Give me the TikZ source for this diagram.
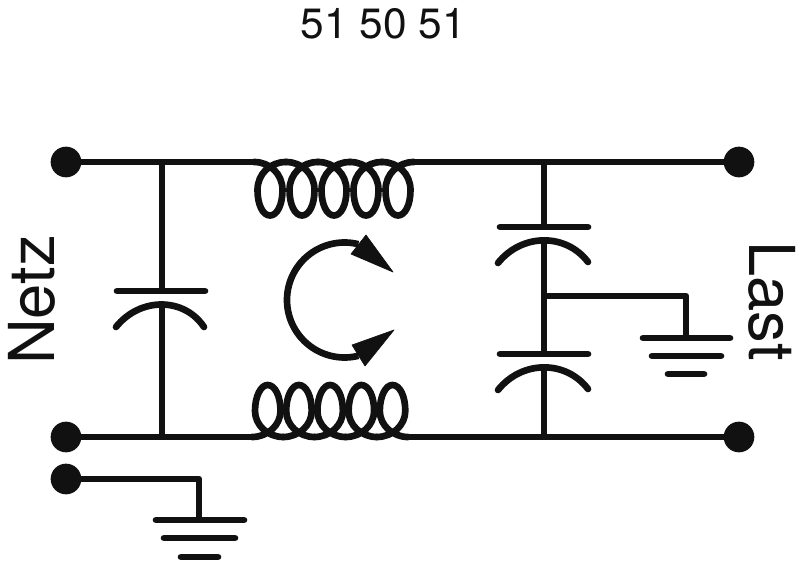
\documentclass[tikz,border=0pt]{standalone}
\usepackage{fontspec}
\setmainfont{TeX Gyre Heros}
\definecolor{ink}{HTML}{111111}
\tikzset{
  wire/.style={draw=ink,line width=5pt,line cap=round,line join=round},
  thinwire/.style={draw=ink,line width=5pt,line join=round},
  term/.style={circle,fill=ink,minimum size=23pt,inner sep=0pt,outer sep=0pt},
  tip/.style={fill=ink,draw=ink,line width=0.5pt,line join=round},
  lbl/.style={inner sep=0pt,anchor=base,text=ink,font=\fontsize{47.5}{47.5}\selectfont}
}
\begin{document}
\begin{tikzpicture}[x=0.75pt,y=-0.75pt]
\useasboundingbox (0,0) rectangle (804,563);
% texts
\node[inner sep=0pt,anchor=base,text=ink,font=\fontsize{31.8}{31.8}\selectfont] (title) at (383.5,38.5) {51 50 51};
\node[lbl,rotate=90] (netz) at (54,300) {Netz};
\node[lbl,rotate=-90] (last) at (749,301) {Last};
% terminals
\node[term] (tl) at (66,162) {};
\node[term] (tr) at (739,162) {};
\node[term] (bl) at (66,437) {};
\node[term] (br) at (739,437) {};
\node[term] (gl) at (66,479) {};
% junction coordinates
\coordinate (c1t) at (162,162);
\coordinate (c1b) at (162,437);
\coordinate (c1p) at (162,291);
\coordinate (c1q) at (162,305);
\coordinate (c2t) at (544,162);
\coordinate (c2b) at (544,437);
\coordinate (c2p) at (544,227);
\coordinate (c2q) at (544,241);
\coordinate (c3p) at (544,354);
\coordinate (c3q) at (544,367);
\coordinate (lt1) at (254,162);
\coordinate (lt2) at (414,162);
\coordinate (lb1) at (252,437);
\coordinate (lb2) at (408,437);
\coordinate (g1c) at (686,296);
\coordinate (g1) at (686,338);
\coordinate (jn) at (544,296);
\coordinate (g2c) at (199,479);
\coordinate (g2) at (199,520);
% main wires
\draw[thinwire] (tl) -- (lt1);
\draw[thinwire] (lt2) -- (tr);
\draw[thinwire] (bl) -- (lb1);
\draw[thinwire] (lb2) -- (br);
% coils: one loop per period
\foreach \i in {0,...,4}{
  \begin{scope}[shift={({254+32*\i},162)}]
    \draw[wire] (0,0) .. controls (16,0) and (28.5,12) .. (28.5,28)
      .. controls (28.5,43) and (23,53.5) .. (16,53.5)
      .. controls (9,53.5) and (3.5,43) .. (3.5,28)
      .. controls (3.5,12) and (16,0) .. (32,0);
  \end{scope}
  \begin{scope}[shift={({252+31.2*\i},437)}]
    \draw[wire] (0,0) .. controls (16,0) and (28.5,-12) .. (28.5,-26)
      .. controls (28.5,-41) and (23,-52) .. (15.6,-52)
      .. controls (9,-52) and (3,-41) .. (3,-26)
      .. controls (3,-12) and (15.6,0) .. (31.2,0);
  \end{scope}
}
% left capacitor
\draw[thinwire] (c1t) -- (c1p);
\draw[thinwire] (c1q) -- (c1b);
\draw[wire] (117,291) -- (205,291);
\draw[wire] (116,327) .. controls (140,297) and (184,297) .. (204,327);
% right capacitors
\draw[thinwire] (c2t) -- (c2p);
\draw[thinwire] (c2q) -- (c3p);
\draw[thinwire] (c3q) -- (c2b);
\draw[wire] (500,227) -- (588,227);
\draw[wire] (498,263) .. controls (522,233) and (566,233) .. (588,262);
\draw[wire] (500,354) -- (588,354);
\draw[wire] (498,390) .. controls (522,360) and (566,360) .. (588,389);
% right ground
\draw[thinwire] (jn) -- (g1c) -- (g1);
\draw[wire] (643,338) -- (730,338);
\draw[wire] (652,356) -- (721,356);
\draw[wire] (668,374) -- (704,374);
% left ground
\draw[thinwire] (gl) -- (g2c) -- (g2);
\draw[wire] (156,520) -- (244,520);
\draw[wire] (164,538) -- (235,538);
\draw[wire] (181,557) -- (218,557);
% circulating arrow
\draw[thinwire] plot[domain=76:284,samples=80,smooth] ({344.5+57.5*cos(\x)},{300-57.5*sin(\x)});
\draw[tip] (393,272) -- (366,235) -- (351,254) -- cycle;
\draw[tip] (394,330) -- (352,345) -- (365,366) -- cycle;
\end{tikzpicture}
\end{document}
